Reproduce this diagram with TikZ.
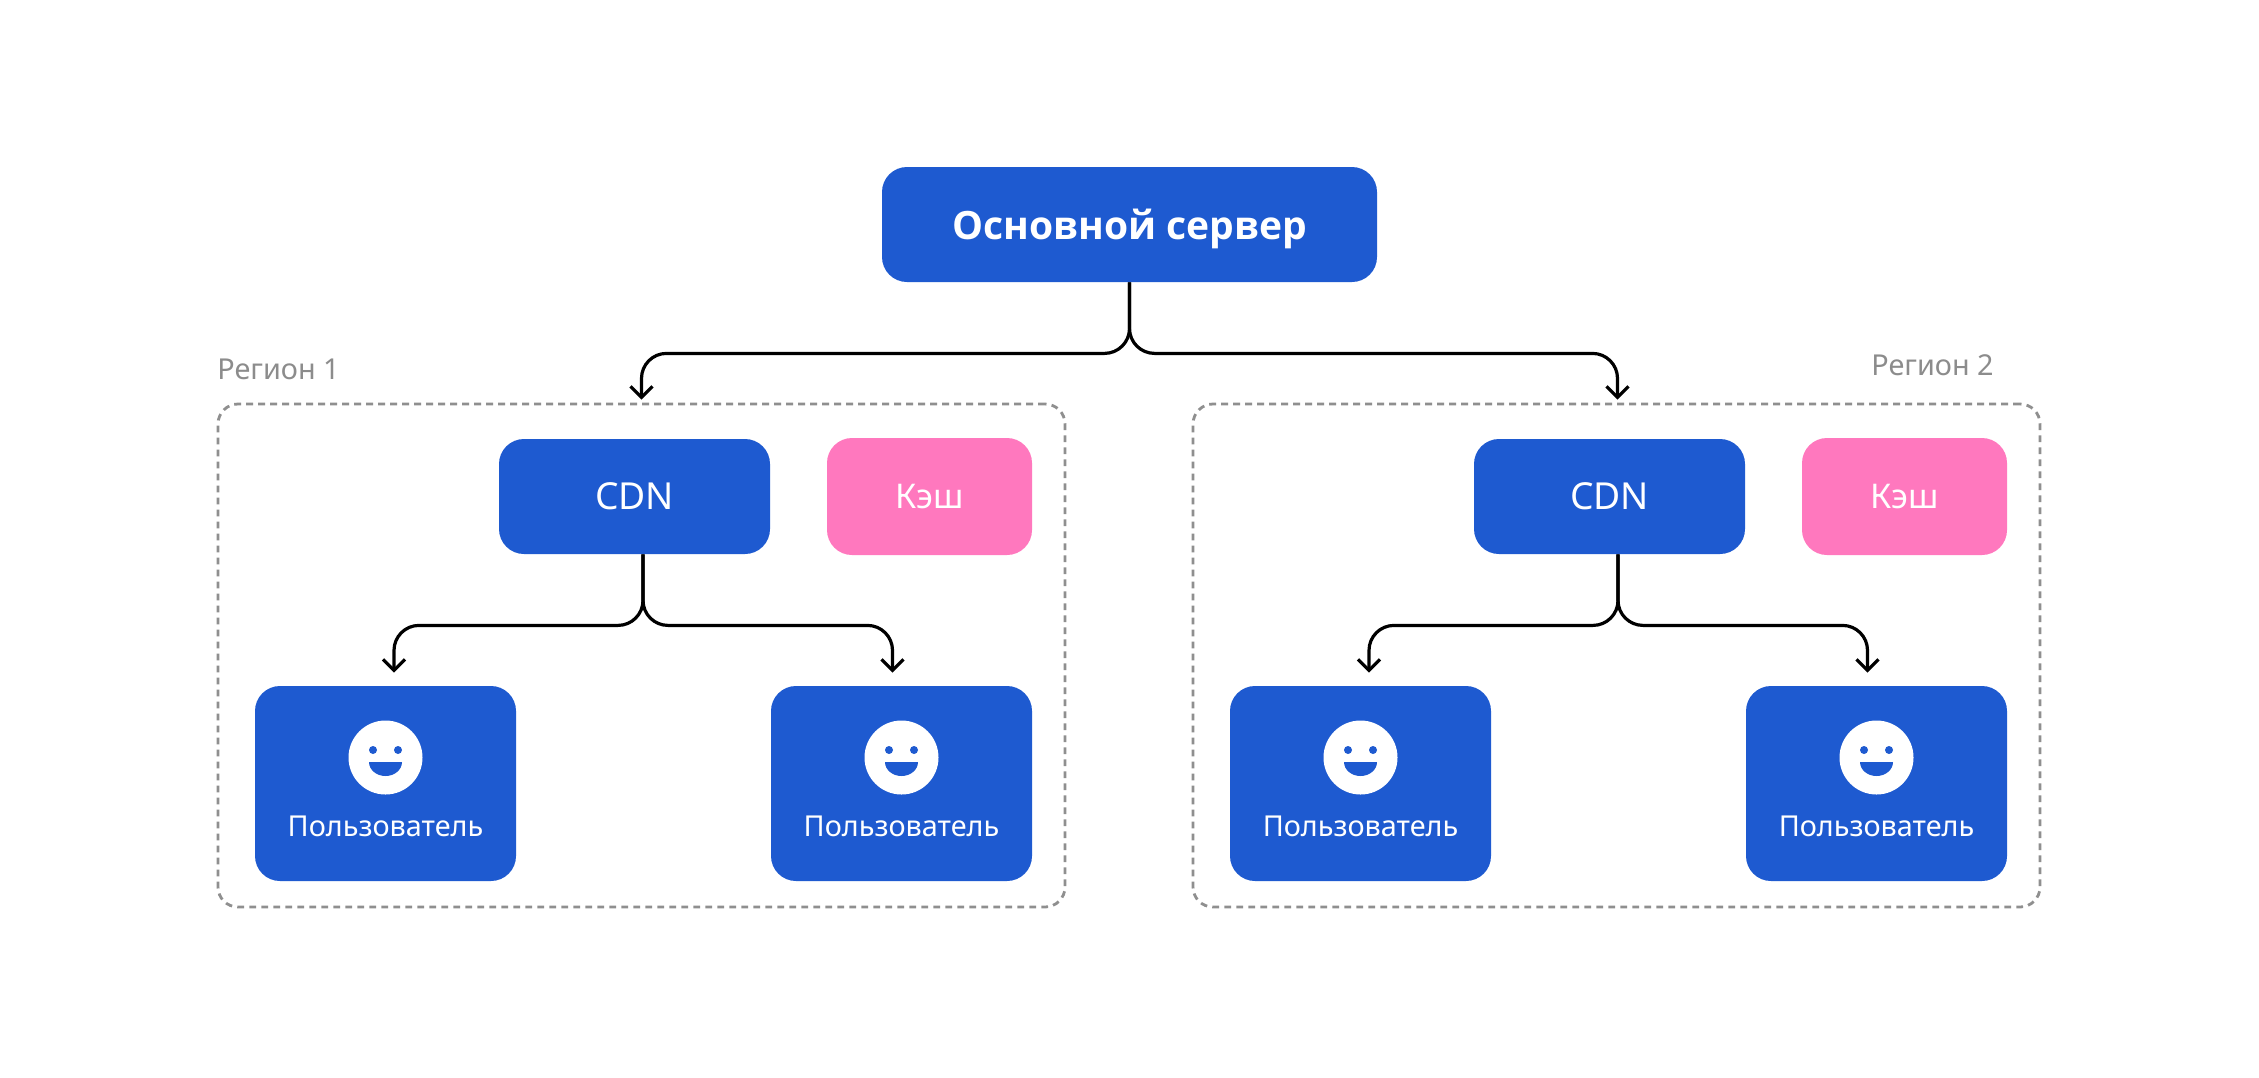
\documentclass[tikz,border=0pt]{standalone}
\usepackage{fontspec}
\setmainfont{Noto Sans}
\newfontfamily\heavyfont{Open Sans}
\usetikzlibrary{arrows.meta,calc}
\definecolor{bluebox}{HTML}{1E5AD0}
\definecolor{pinkbox}{HTML}{FF78BE}
\definecolor{graylab}{HTML}{8C8C8C}
\definecolor{grayline}{HTML}{8F8F8F}
\tikzset{
  box/.style={rounded corners=12.5pt,inner sep=0pt,text=white,font=\fontsize{17}{20}\selectfont},
  bluenode/.style={box,fill=bluebox},
  pinknode/.style={box,fill=pinkbox},
  region/.style={draw=grayline,line width=1.4pt,dash pattern=on 3.4pt off 2.6pt,rounded corners=10pt,inner sep=0pt},
  reglabel/.style={text=graylab,inner sep=0pt,anchor=base west,font=\fontsize{14.4}{17}\selectfont},
  usertext/.style={text=white,inner sep=0pt,anchor=base,font=\fontsize{14.4}{17}\selectfont},
  conn/.style={draw=black,line width=1.6pt,rounded corners=12.5pt,-{Straight Barb[length=5.5pt,width=11pt,line width=1.6pt]}},
  face/.style={circle,fill=white,inner sep=0pt,minimum size=37pt},
  eye/.style={circle,fill=bluebox,inner sep=0pt,minimum size=4pt},
}
\newcommand{\UserBox}[2]{%
  \node[bluenode,minimum width=130.5pt,minimum height=97.5pt] (#1) at (#2,783.5) {};
  \node[face] (#1f) at (#2,757.5) {};
  \node[eye] (#1a) at ($(#1f)+(-12.5,-7.5)$) {};
  \node[eye] (#1b) at ($(#1f)+(12.5,-7.5)$) {};
  \fill[bluebox] ($(#1f)+(-16.5,4.5)$) -- ($(#1f)+(16.5,4.5)$) arc[start angle=0,end angle=-180,x radius=8.25pt,y radius=7pt] -- cycle;
  \node[usertext] (#1t) at (#2,836) {Пользователь};
}
\begin{document}
\begin{tikzpicture}[x=0.5pt,y=-0.5pt]
\useasboundingbox[fill=white] (0,0) rectangle (2259,1077);
% regions
\node[region,minimum width=423.5pt,minimum height=251.5pt] (reg1) at (641.5,655.5) {};
\node[region,minimum width=423.5pt,minimum height=251.5pt] (reg2) at (1616.5,655.5) {};
\node[reglabel] (lab1) at (217,379) {Регион 1};
\node[reglabel] (lab2) at (1871,375) {Регион 2};
% main
\node[bluenode,minimum width=247.5pt,minimum height=57.5pt,text depth=0pt,font=\fontsize{19.5}{24}\selectfont\heavyfont\bfseries] (main) at (1129.5,224.5) {Основной сервер};
% cdn and cache
\node[bluenode,minimum width=135.5pt,minimum height=57.5pt,font=\fontsize{18.6}{20}\selectfont] (cdn1) at (634.5,496.5) {CDN};
\node[bluenode,minimum width=135.5pt,minimum height=57.5pt,font=\fontsize{18.6}{20}\selectfont] (cdn2) at (1609.5,496.5) {CDN};
\node[pinknode,minimum width=102.5pt,minimum height=58.5pt] (kesh1) at (929.5,496.5) {Кэш};
\node[pinknode,minimum width=102.5pt,minimum height=58.5pt] (kesh2) at (1904.5,496.5) {Кэш};
% users
\UserBox{ua}{385.5}
\UserBox{ub}{901.5}
\UserBox{uc}{1360.5}
\UserBox{ud}{1876.5}
% connectors
\draw[conn] (main.south) -- ++(0,71) -| ([yshift=1.5pt]reg1.north);
\draw[conn] (main.south) -- ++(0,71) -| ([yshift=1.5pt,xshift=0.5pt]reg2.north);
\draw[conn] ([xshift=4.25pt]cdn1.south) -- ++(0,71) -| ([xshift=4.25pt,yshift=6.5pt]ua.north);
\draw[conn] ([xshift=4.25pt]cdn1.south) -- ++(0,71) -| ([xshift=-4.5pt,yshift=6.5pt]ub.north);
\draw[conn] ([xshift=4.25pt]cdn2.south) -- ++(0,71) -| ([xshift=4.25pt,yshift=6.5pt]uc.north);
\draw[conn] ([xshift=4.25pt]cdn2.south) -- ++(0,71) -| ([xshift=-4.5pt,yshift=6.5pt]ud.north);
\end{tikzpicture}
\end{document}
